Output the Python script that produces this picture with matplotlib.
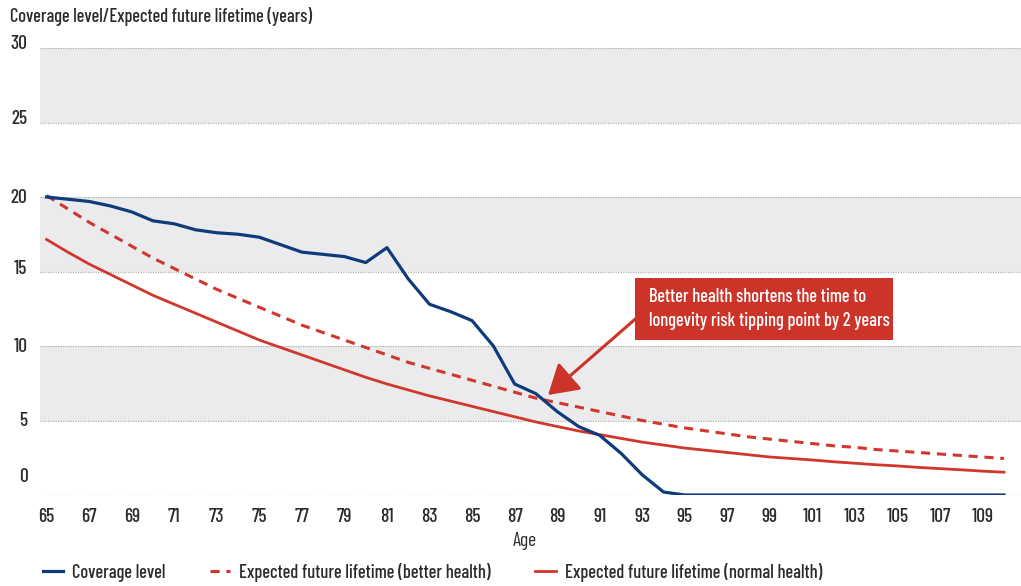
import numpy as np
import matplotlib
matplotlib.use("Agg")
import matplotlib.pyplot as plt
from matplotlib.patches import Rectangle
from matplotlib.transforms import ScaledTranslation

plt.rcParams['font.family'] = ['Barlow Condensed', 'DejaVu Sans']
plt.rcParams['font.weight'] = 'medium'

ages = np.arange(65, 111)
coverage = [20.0, 19.85, 19.7, 19.4, 19.0, 18.4, 18.2, 17.8, 17.6, 17.5,
            17.3, 16.8, 16.3, 16.15, 16.0, 15.6, 16.6, 14.5, 12.8, 12.3,
            11.7, 10.0, 7.45, 6.8, 5.6, 4.6, 4.0, 2.8, 1.35, 0.2,
            0, 0, 0, 0, 0, 0, 0, 0, 0, 0, 0, 0, 0, 0, 0, 0]
better = [20.1, 19.2, 18.3, 17.5, 16.7, 15.9, 15.2, 14.5, 13.8, 13.2,
          12.6, 12.0, 11.4, 10.9, 10.4, 9.9, 9.4, 8.9, 8.5, 8.1,
          7.7, 7.3, 6.9, 6.5, 6.2, 5.9, 5.6, 5.3, 5.0, 4.75,
          4.5, 4.3, 4.1, 3.9, 3.75, 3.6, 3.45, 3.3, 3.2, 3.05,
          2.95, 2.85, 2.75, 2.65, 2.55, 2.45]
normal = [17.15, 16.3, 15.5, 14.8, 14.1, 13.4, 12.8, 12.2, 11.6, 11.0,
          10.4, 9.9, 9.4, 8.9, 8.4, 7.9, 7.45, 7.05, 6.65, 6.3,
          5.95, 5.6, 5.25, 4.9, 4.6, 4.3, 4.05, 3.8, 3.55, 3.35,
          3.15, 3.0, 2.85, 2.7, 2.55, 2.45, 2.35, 2.23, 2.13, 2.03,
          1.95, 1.85, 1.77, 1.69, 1.6, 1.53]
labels = ['Coverage level', 'Expected future lifetime (better health)',
          'Expected future lifetime (normal health)']
note = 'Better health shortens the time to\nlongevity risk tipping point by 2 years'

blue = '#0f3b7a'
red = '#d0372d'
txt = '#2b2b2b'

fig = plt.figure(figsize=(10.21, 5.86), dpi=100)
ax = fig.add_axes([40/1021, 91/586, 981/1021, 447/586])

for lo in (5, 15, 25):
    ax.axhspan(lo, lo + 5, color='#ebebee', lw=0, zorder=0)
for y in range(0, 31, 5):
    ax.axhline(y, color='#b0b0b0', lw=0.9, ls=(0, (1, 1)), zorder=1)

ax.plot(ages, coverage, color=blue, lw=2.3, label=labels[0], zorder=4)
ax.plot(ages, better, color=red, lw=2.2, ls=(0, (3, 2.2)), label=labels[1], zorder=3)
ax.plot(ages, normal, color=red, lw=2.0, label=labels[2], zorder=3)

ax.set_xlim(64.69, 110.8)
ax.set_ylim(0, 30)
ax.set_xticks(np.arange(65, 110, 2))
ax.set_yticks(range(0, 31, 5))
ax.tick_params(length=0, labelsize=14, colors=txt)
ax.tick_params(axis='x', pad=9)
ax.tick_params(axis='y', pad=9)
for s in ax.spines.values():
    s.set_visible(False)

# y labels sit a little above their grid lines in the original
for lab, dy in zip(ax.get_yticklabels(), [20, 1, 1, 4, 1, 5, 6]):
    lab.set_transform(lab.get_transform() + ScaledTranslation(0, dy/100, fig.dpi_scale_trans))

ax.set_xlabel('Age', fontsize=14, color=txt)
ax.xaxis.set_label_coords(0.494, -0.083)

fig.text(10/1021, 1 - 17/586, 'Coverage level/Expected future lifetime (years)',
         fontsize=13.2, color=txt, va='center', ha='left')

# callout box + arrow
ax.add_patch(Rectangle((92.65, 10.4), 12.12, 4.16, fc='#cc3329', ec='none', zorder=6))
ax.text(93.3, 12.48, note, fontsize=13.3, color='white', va='center', ha='left',
        linespacing=1.45, zorder=7)
ax.annotate('', xy=(88.57, 6.71), xytext=(92.8, 11.97),
            arrowprops=dict(arrowstyle='-|>,head_length=0.9,head_width=0.55',
                            mutation_scale=20, color='#cc3329', lw=2.2,
                            shrinkA=0, shrinkB=0), zorder=6)

fig.legend(loc='center left', bbox_to_anchor=(26/1021, 1 - 572/586), ncol=3,
           frameon=False, fontsize=13.3, handlelength=1.1, handletextpad=0.5,
           columnspacing=2.4, labelcolor=txt)

fig.savefig('out.png', dpi=100)
